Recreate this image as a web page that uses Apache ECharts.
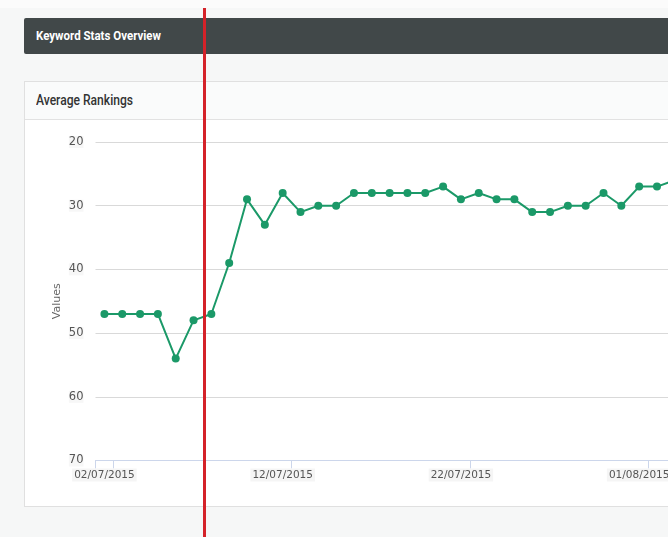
<!DOCTYPE html>
<html>
<head>
<meta charset="utf-8">
<script src="https://cdn.jsdelivr.net/npm/echarts@6/dist/echarts.min.js"></script>
<style>
  html, body { margin: 0; padding: 0; width: 668px; height: 537px; overflow: hidden; background: #f6f7f7; }
  .topband { position: absolute; left: 0; top: 0; width: 668px; height: 8px; background: #fbfbfb; }
  .hdr { position: absolute; left: 24px; top: 18px; width: 800px; height: 36px; background: #414849; border-radius: 2px; }
  .hdr span { position: absolute; left: 12px; top: 0; line-height: 36px; color: #fff; white-space: nowrap;
              font-family: Roboto, "DejaVu Sans", sans-serif; font-weight: bold; font-size: 13px;
              transform-origin: 0 50%; display: inline-block; }
  .panel { position: absolute; left: 24px; top: 81px; width: 900px; height: 426px; background: #fff;
           border: 1px solid #e0e0e0; box-sizing: border-box; }
  .phead { position: absolute; left: 0; top: 0; right: 0; height: 37px; background: #fafbfb; border-bottom: 1px solid #e2e2e2; }
  .phead span { position: absolute; left: 11px; top: 0; line-height: 37px; color: #333; white-space: nowrap;
                font-family: Roboto, "DejaVu Sans", sans-serif; font-weight: 500; font-size: 14px;
                transform-origin: 0 50%; display: inline-block; }
  #chart { position: absolute; left: 24px; top: 119px; width: 900px; height: 387px; }
  .redline { position: absolute; left: 203px; top: 8px; width: 3px; height: 529px; background: #d42229; }
</style>
</head>
<body>
<div class="topband"></div>
<div class="hdr"><span id="t1">Keyword Stats Overview</span></div>
<div class="panel"><div class="phead"><span id="t2">Average Rankings</span></div></div>
<div id="chart"></div>
<div class="redline"></div>
<script>
// ---- data ----
const dates = [
  '2015-07-02','2015-07-03','2015-07-04','2015-07-05','2015-07-06','2015-07-07','2015-07-08','2015-07-09',
  '2015-07-10','2015-07-11','2015-07-12','2015-07-13','2015-07-14','2015-07-15','2015-07-16','2015-07-17',
  '2015-07-18','2015-07-19','2015-07-20','2015-07-21','2015-07-22','2015-07-23','2015-07-24','2015-07-25',
  '2015-07-26','2015-07-27','2015-07-28','2015-07-29','2015-07-30','2015-07-31','2015-08-01','2015-08-02',
  '2015-08-03'
];
const rankings = [
  47, 47, 47, 47, 54, 48, 47, 39,
  29, 33, 28, 31, 30, 30, 28, 28,
  28, 28, 28, 27, 29, 28, 29, 29,
  31, 31, 30, 30, 28, 30, 27, 27,
  26
];
const xLabelDates = ['2015-07-02', '2015-07-12', '2015-07-22', '2015-08-01'];
const yMin = 20, yMax = 70, yInterval = 10;
const yAxisName = 'Values';

// condensed look for the html titles
function fitWidth(id, w) {
  const el = document.getElementById(id);
  const cur = el.getBoundingClientRect().width;
  if (cur > 0) el.style.transform = 'scaleX(' + (w / cur) + ')';
}
fitWidth('t1', 125);
fitWidth('t2', 97);

// ---- build ----
const DAY = 86400000, HALF = DAY / 2;
const ts = s => { const p = s.split('-').map(Number); return Date.UTC(p[0], p[1] - 1, p[2]); };
const xMin = ts(dates[0]) - HALF;
const xMax = ts('2015-08-10') + HALF;
const labelVals = xLabelDates.map(ts);
const tickVals = [xMin].concat(xLabelDates.map(d => ts(d) + HALF));
const pad = n => (n < 10 ? '0' : '') + n;
const fmt = v => { const d = new Date(v); return pad(d.getUTCDate()) + '/' + pad(d.getUTCMonth() + 1) + '/' + d.getUTCFullYear(); };

const chart = echarts.init(document.getElementById('chart'), null, { renderer: 'canvas' });
chart.setOption({
  animation: false,
  grid: { left: 71.5, top: 23, right: 115.5, bottom: 45.5 },
  xAxis: {
    type: 'value', min: xMin, max: xMax,
    axisLine: { show: true, lineStyle: { color: '#ccd6eb', width: 1 } },
    axisTick: { show: true, length: 8, customValues: tickVals, lineStyle: { color: '#ccd6eb' } },
    axisLabel: { customValues: labelVals, formatter: fmt, margin: 8,
      backgroundColor: '#f5f5f5', padding: [1, 2],
      fontFamily: 'DejaVu Sans', fontSize: 10.5, color: '#555' },
    splitLine: { show: false }
  },
  yAxis: {
    type: 'value', inverse: true, min: yMin, max: yMax, interval: yInterval,
    name: yAxisName, nameLocation: 'middle', nameGap: 33, nameMoveOverlap: false,
    nameTextStyle: { fontFamily: 'DejaVu Sans', fontSize: 11, color: '#666' },
    axisLine: { show: false }, axisTick: { show: false },
    axisLabel: { margin: 12, backgroundColor: '#f7f7f7',
      fontFamily: 'DejaVu Sans', fontSize: 11.5, color: '#555' },
    splitLine: { lineStyle: { color: '#d9d9d9', width: 1 } }
  },
  series: [{
    type: 'line',
    data: dates.map((d, i) => [ts(d), rankings[i]]),
    symbol: 'circle', symbolSize: 8,
    lineStyle: { color: '#1b9968', width: 2 },
    itemStyle: { color: '#1b9968' }
  }]
});
</script>
</body>
</html>
